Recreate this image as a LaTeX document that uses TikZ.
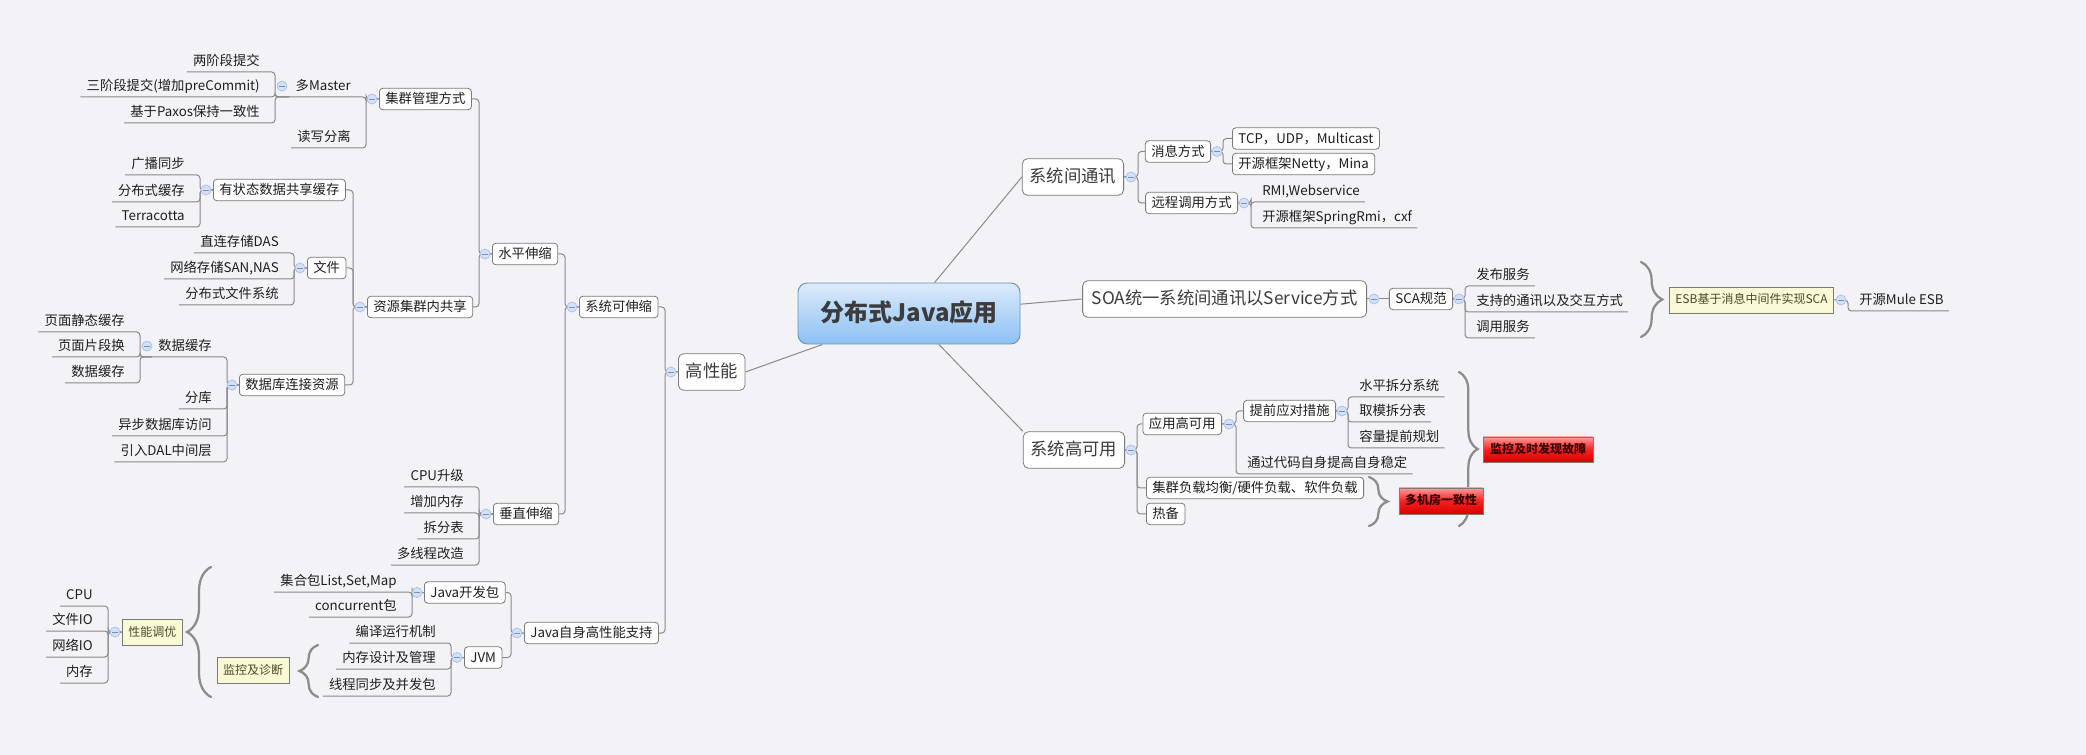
\documentclass[tikz,border=0pt]{standalone}
\usepackage{fontspec}
\setmainfont{Noto Sans CJK SC}
\usetikzlibrary{calc,decorations.pathreplacing}
\definecolor{bg}{HTML}{F3F3F7}
\definecolor{ln}{HTML}{8A8A8A}
\definecolor{bd}{HTML}{7A7A7A}
\definecolor{txc}{HTML}{1E1E1E}
\definecolor{cTop}{HTML}{DCEBFB}
\definecolor{cBot}{HTML}{8CC0F4}
\definecolor{cBd}{HTML}{7090B0}
\definecolor{cTx}{HTML}{3C3C3C}
\definecolor{yel}{HTML}{FAF9D6}
\definecolor{yelTx}{HTML}{4A4A2A}
\definecolor{rTop}{HTML}{FF9A9A}
\definecolor{rMid}{HTML}{F52020}
\definecolor{rBot}{HTML}{D80000}
\definecolor{rTx}{HTML}{3A0000}
\definecolor{mnF}{HTML}{D2E1F7}
\definecolor{mnD}{HTML}{A3BEE6}
\definecolor{brc}{HTML}{8C8C8C}
\newcommand\fsSmall{\fontsize{10}{12}\selectfont}
\newcommand\fsMain{\fontsize{13}{15}\selectfont}
\newcommand\fsCen{\fontsize{18}{21}\selectfont}
\newcommand\fsNote{\fontsize{9}{11}\selectfont}
\tikzset{
  conn/.style={draw=ln, line width=0.75pt, rounded corners=2.5pt},
  spoke/.style={draw=ln, line width=0.75pt},
  tbox/.style={draw=bd, fill=white, rounded corners=2.5pt, font=\fsSmall, text=txc, inner xsep=4.5pt, inner ysep=3pt, text height=8.5pt, text depth=1.5pt, line width=0.6pt},
  llab/.style={anchor=south east, font=\fsSmall, text=txc, inner xsep=4.5pt, inner ysep=3pt, text height=8.5pt, text depth=1.5pt, execute at end node={\hspace*{6.75pt}}},
  rlab/.style={anchor=south west, font=\fsSmall, text=txc, inner xsep=3.75pt, inner ysep=3pt, text height=8.5pt, text depth=1.5pt, execute at begin node={\hspace*{4.5pt}}},
  mainbox/.style={draw=bd, fill=white, rounded corners=4pt, font=\fsMain, text=cTx, inner xsep=5.5pt, text height=10pt, text depth=1.5pt, minimum height=27.5pt, line width=0.6pt},
  cenbox/.style={draw=cBd, top color=cTop, bottom color=cBot, rounded corners=7pt, minimum width=166.5pt, minimum height=45.75pt, font=\fsCen\bfseries, text=cTx, text height=15pt, text depth=2.5pt, line width=0.7pt},
  notebox/.style={draw=bd, fill=yel, font=\fsNote, text=yelTx, inner xsep=4.5pt, text height=7.5pt, text depth=1.5pt, minimum height=19.5pt, line width=0.6pt},
  alertbox/.style={draw=bd, top color=rTop, bottom color=rBot, middle color=rMid, font=\fsNote\bfseries, text=rTx, inner sep=0pt, text height=7.5pt, text depth=1.5pt, line width=0.6pt},
  mn/.style={circle, draw=mnD, fill=mnF, minimum size=7.5pt, inner sep=0pt, line width=0.5pt, path picture={\draw[mnD!75!black, line width=0.5pt] ([xshift=1.5pt]path picture bounding box.west) -- ([xshift=-1.5pt]path picture bounding box.east);}},
  curlyb/.style={draw=brc, line width=1.7pt, line cap=round, decorate, decoration={brace, amplitude=#1}}
}
\begin{document}
\begin{tikzpicture}[x=0.75pt,y=-0.75pt]
\path[use as bounding box, fill=bg] (0,0) rectangle (2086,755);

% ---------- nodes: centre and main topics
\node[cenbox] (cen) at (909,313.5) {分布式Java应用};
\node[mainbox, anchor=west] (hp) at (678,372) {高性能};
\node[mainbox, anchor=east] (tx) at (1124,177) {系统间通讯};
\node[mainbox, anchor=east, minimum width=213pt] (soa) at (1367,299) {SOA统一系统间通讯以Service方式};
\node[mainbox, anchor=east] (ky) at (1125,450) {系统高可用};

% ---------- left tree
\node[tbox, anchor=west] (ss) at (579,307) {系统可伸缩};
\node[tbox, anchor=west] (hs) at (492,254) {水平伸缩};
\node[tbox, anchor=west] (jq) at (379,99) {集群管理方式};
\node[llab] (dm) at (366,97) {多Master};
\node[llab] (t2) at (275,72) {两阶段提交};
\node[llab] (t3) at (275,97) {三阶段提交(增加preCommit)};
\node[llab] (px) at (275,123) {基于Paxos保持一致性};
\node[llab] (rw) at (366,148) {读写分离};
\node[tbox, anchor=west] (zy) at (367,307) {资源集群内共享};
\node[tbox, anchor=west] (yz) at (213,190) {有状态数据共享缓存};
\node[llab] (gb) at (200,175) {广播同步};
\node[llab] (fc) at (200,202) {分布式缓存};
\node[llab] (tc) at (200,227) {Terracotta};
\node[tbox, anchor=west] (wj) at (307,268) {文件};
\node[llab] (das) at (294,253) {直连存储DAS};
\node[llab] (san) at (294,279) {网络存储SAN,NAS};
\node[llab] (dfs) at (294,305) {分布式文件系统};
\node[tbox, anchor=west] (db) at (239,385) {数据库连接资源};
\node[llab] (dc) at (227,357) {数据缓存};
\node[llab] (ps) at (140,332) {页面静态缓存};
\node[llab] (pf) at (140,357) {页面片段换};
\node[llab] (dd) at (140,383) {数据缓存};
\node[llab] (fk) at (227,409) {分库};
\node[llab] (yb) at (227,436) {异步数据库访问};
\node[llab] (dal) at (227,462) {引入DAL中间层};
\node[tbox, anchor=west] (cz) at (493,514) {垂直伸缩};
\node[llab] (cu) at (479,487) {CPU升级};
\node[llab] (zj) at (479,513) {增加内存};
\node[llab] (cf) at (479,539) {拆分表};
\node[llab] (dx) at (479,565) {多线程改造};
\node[tbox, anchor=west] (js) at (524,633) {Java自身高性能支持};
\node[tbox, anchor=west] (jk) at (424,592.5) {Java开发包};
\node[llab] (jh) at (412,592) {集合包List,Set,Map};
\node[llab] (cc) at (412,617) {concurrent包};
\node[tbox, anchor=west] (jvm) at (464,657.5) {JVM};
\node[llab] (by) at (451,643) {编译运行机制};
\node[llab] (nc) at (451,669) {内存设计及管理};
\node[llab] (xt) at (451,696) {线程同步及并发包};
\node[notebox, anchor=west] (xn) at (122,632) {性能调优};
\node[llab] (q1) at (108,606) {CPU};
\node[llab] (q2) at (108,631) {文件IO};
\node[llab] (q3) at (108,657) {网络IO};
\node[llab] (q4) at (108,683) {内存};
\node[notebox] (jz) at (253,670) {监控及诊断};

% ---------- right tree
\node[tbox, anchor=east] (xx) at (1211,151.5) {消息方式};
\node[tbox, anchor=west] (tcp) at (1232,138.5) {TCP，UDP，Multicast};
\node[tbox, anchor=west] (net) at (1232,164) {开源框架Netty，Mina};
\node[tbox, anchor=east] (yc) at (1238,203) {远程调用方式};
\node[rlab] (rmi) at (1251,202) {RMI,Webservice};
\node[rlab] (spr) at (1251,228) {开源框架SpringRmi，cxf};
\node[tbox, anchor=east] (sca) at (1453,299) {SCA规范};
\node[rlab] (fw) at (1465,286) {发布服务};
\node[rlab] (zc) at (1465,312) {支持的通讯以及交互方式};
\node[rlab] (dy) at (1465,338) {调用服务};
\node[notebox, anchor=east] (esb) at (1834,300) {ESB基于消息中间件实现SCA};
\node[rlab] (mule) at (1848,311) {开源Mule ESB};
\node[tbox, anchor=east] (yy) at (1222,424) {应用高可用};
\node[tbox, anchor=east] (tq) at (1336,411) {提前应对措施};
\node[rlab] (sp) at (1348,397) {水平拆分系统};
\node[rlab] (qm) at (1348,422) {取模拆分表};
\node[rlab] (rl) at (1348,448) {容量提前规划};
\node[rlab] (wd) at (1236,474) {通过代码自身提高自身稳定};
\node[tbox, anchor=west] (fz) at (1146,488) {集群负载均衡/硬件负载、软件负载};
\node[tbox, anchor=west] (rb) at (1146,514) {热备};

% ---------- bus coordinates
\coordinate (Bhp) at (665,0);
\coordinate (Bss) at (565,0);
\coordinate (Bhs) at (479,0);
\coordinate (Bjq) at (366,0);
\coordinate (Bdm) at (275,0);
\coordinate (Bzy) at (353,0);
\coordinate (Byz) at (200,0);
\coordinate (Bwj) at (294,0);
\coordinate (Bdb) at (227,0);
\coordinate (Bdc) at (140,0);
\coordinate (Bcz) at (479,0);
\coordinate (Bjs) at (511,0);
\coordinate (Bjk) at (412,0);
\coordinate (Bjvm) at (451,0);
\coordinate (Bxn) at (108,0);
\coordinate (Btx) at (1138,0);
\coordinate (Bxx) at (1223,0);
\coordinate (Byc) at (1251,0);
\coordinate (Bsca) at (1465,0);
\coordinate (Bky) at (1137,0);
\coordinate (Byy) at (1236,0);
\coordinate (Btq) at (1348,0);

% ---------- spokes from centre
\draw[spoke] (cen) -- (hp.east);
\draw[spoke] (cen) -- (tx.west);
\draw[spoke] (cen) -- (soa.west);
\draw[spoke] (cen) -- (ky.north west);

% ---------- left connectors
\draw[conn] (hp.west) -| (Bhp |- ss.east) -- (ss.east);
\draw[conn] (hp.west) -| (Bhp |- js.east) -- (js.east);
\draw[conn] (ss.west) -| (Bss |- hs.east) -- (hs.east);
\draw[conn] (ss.west) -| (Bss |- cz.east) -- (cz.east);
\draw[conn] (hs.west) -| (Bhs |- jq.east) -- (jq.east);
\draw[conn] (hs.west) -| (Bhs |- zy.east) -- (zy.east);
\draw[conn] (jq.west) -| (Bjq |- dm.south east) -- (dm.south west);
\draw[conn] (jq.west) -| (Bjq |- rw.south east) -- (rw.south west);
\draw[conn] (dm.south west) -| (Bdm |- t2.south east) -- (t2.south west);
\draw[conn] (dm.south west) -| (Bdm |- t3.south east) -- (t3.south west);
\draw[conn] (dm.south west) -| (Bdm |- px.south east) -- (px.south west);
\draw[conn] (zy.west) -| (Bzy |- yz.east) -- (yz.east);
\draw[conn] (zy.west) -| (Bzy |- wj.east) -- (wj.east);
\draw[conn] (zy.west) -| (Bzy |- db.east) -- (db.east);
\draw[conn] (yz.west) -| (Byz |- gb.south east) -- (gb.south west);
\draw[conn] (yz.west) -| (Byz |- fc.south east) -- (fc.south west);
\draw[conn] (yz.west) -| (Byz |- tc.south east) -- (tc.south west);
\draw[conn] (wj.west) -| (Bwj |- das.south east) -- (das.south west);
\draw[conn] (wj.west) -| (Bwj |- san.south east) -- (san.south west);
\draw[conn] (wj.west) -| (Bwj |- dfs.south east) -- (dfs.south west);
\draw[conn] (db.west) -| (Bdb |- dc.south east) -- (dc.south west);
\draw[conn] (db.west) -| (Bdb |- fk.south east) -- (fk.south west);
\draw[conn] (db.west) -| (Bdb |- yb.south east) -- (yb.south west);
\draw[conn] (db.west) -| (Bdb |- dal.south east) -- (dal.south west);
\draw[conn] (dc.south west) -| (Bdc |- ps.south east) -- (ps.south west);
\draw[conn] (dc.south west) -| (Bdc |- pf.south east) -- (pf.south west);
\draw[conn] (dc.south west) -| (Bdc |- dd.south east) -- (dd.south west);
\draw[conn] (cz.west) -| (Bcz |- cu.south east) -- (cu.south west);
\draw[conn] (cz.west) -| (Bcz |- zj.south east) -- (zj.south west);
\draw[conn] (cz.west) -| (Bcz |- cf.south east) -- (cf.south west);
\draw[conn] (cz.west) -| (Bcz |- dx.south east) -- (dx.south west);
\draw[conn] (js.west) -| (Bjs |- jk.east) -- (jk.east);
\draw[conn] (js.west) -| (Bjs |- jvm.east) -- (jvm.east);
\draw[conn] (jk.west) -| (Bjk |- jh.south east) -- (jh.south west);
\draw[conn] (jk.west) -| (Bjk |- cc.south east) -- (cc.south west);
\draw[conn] (jvm.west) -| (Bjvm |- by.south east) -- (by.south west);
\draw[conn] (jvm.west) -| (Bjvm |- nc.south east) -- (nc.south west);
\draw[conn] (jvm.west) -| (Bjvm |- xt.south east) -- (xt.south west);
\draw[conn] (xn.west) -| (Bxn |- q1.south east) -- (q1.south west);
\draw[conn] (xn.west) -| (Bxn |- q2.south east) -- (q2.south west);
\draw[conn] (xn.west) -| (Bxn |- q3.south east) -- (q3.south west);
\draw[conn] (xn.west) -| (Bxn |- q4.south east) -- (q4.south west);

% ---------- right connectors
\draw[conn] (tx.east) -| (Btx |- xx.west) -- (xx.west);
\draw[conn] (tx.east) -| (Btx |- yc.west) -- (yc.west);
\draw[conn] (xx.east) -| (Bxx |- tcp.west) -- (tcp.west);
\draw[conn] (xx.east) -| (Bxx |- net.west) -- (net.west);
\draw[conn] (yc.east) -| (Byc |- rmi.south west) -- (rmi.south east);
\draw[conn] (yc.east) -| (Byc |- spr.south west) -- (spr.south east);
\draw[conn] (soa.east) -- (sca.west);
\draw[conn] (sca.east) -| (Bsca |- fw.south west) -- (fw.south east);
\draw[conn] (sca.east) -| (Bsca |- zc.south west) -- (zc.south east);
\draw[conn] (sca.east) -| (Bsca |- dy.south west) -- (dy.south east);
\draw[conn] (esb.east) -| (mule.south west) -- (mule.south east);
\draw[conn] (ky.east) -| (Bky |- yy.west) -- (yy.west);
\draw[conn] (ky.east) -| (Bky |- fz.west) -- (fz.west);
\draw[conn] (ky.east) -| (Bky |- rb.west) -- (rb.west);
\draw[conn] (yy.east) -| (Byy |- tq.west) -- (tq.west);
\draw[conn] (yy.east) -| (Byy |- wd.south west) -- (wd.south east);
\draw[conn] (tq.east) -| (Btq |- sp.south west) -- (sp.south east);
\draw[conn] (tq.east) -| (Btq |- qm.south west) -- (qm.south east);
\draw[conn] (tq.east) -| (Btq |- rl.south west) -- (rl.south east);

% ---------- braces
\draw[curlyb=16pt] (1641,262) -- (1641,337);
\draw[curlyb=14pt] (1459,372) -- (1459,526);
\draw[curlyb=14pt] (1369,477) -- (1369,526);
\draw[curlyb=18pt] (211,697) -- (211,567);
\draw[curlyb=14pt] (318,697) -- (318,645);

% ---------- summary boxes (drawn over the braces)
\node[alertbox, minimum width=82.5pt, minimum height=18.75pt] (a1) at (1538,449.5) {监控及时发现故障};
\node[alertbox, minimum width=63pt, minimum height=19.5pt] (a2) at (1441,501) {多机房一致性};

% ---------- collapse markers
\node[mn] (m1) at ($(hp.west)+(-7,0)$) {};
\node[mn] (m2) at ($(ss.west)+(-7,0)$) {};
\node[mn] (m3) at ($(hs.west)+(-7,0)$) {};
\node[mn] (m4) at ($(jq.west)+(-7,0)$) {};
\node[mn] (m5) at ($(Bdm |- dm.west)+(7,0)$) {};
\node[mn] (m6) at ($(zy.west)+(-7,0)$) {};
\node[mn] (m7) at ($(yz.west)+(-7,0)$) {};
\node[mn] (m8) at ($(wj.west)+(-7,0)$) {};
\node[mn] (m9) at ($(db.west)+(-7,0)$) {};
\node[mn] (m10) at ($(Bdc |- dc.west)+(7,0)$) {};
\node[mn] (m11) at ($(cz.west)+(-7,0)$) {};
\node[mn] (m12) at ($(js.west)+(-7,0)$) {};
\node[mn] (m13) at ($(jk.west)+(-7,0)$) {};
\node[mn] (m14) at ($(jvm.west)+(-7,0)$) {};
\node[mn] (m15) at ($(xn.west)+(-7,0)$) {};
\node[mn] (m16) at ($(tx.east)+(7,0)$) {};
\node[mn] (m17) at ($(xx.east)+(6,0)$) {};
\node[mn] (m18) at ($(yc.east)+(6,0)$) {};
\node[mn] (m19) at ($(soa.east)+(7,0)$) {};
\node[mn] (m20) at ($(sca.east)+(6,0)$) {};
\node[mn] (m21) at ($(esb.east)+(7,0)$) {};
\node[mn] (m22) at ($(ky.east)+(6,0)$) {};
\node[mn] (m23) at ($(yy.east)+(7,0)$) {};
\node[mn] (m24) at ($(tq.east)+(6,0)$) {};
\end{tikzpicture}
\end{document}
